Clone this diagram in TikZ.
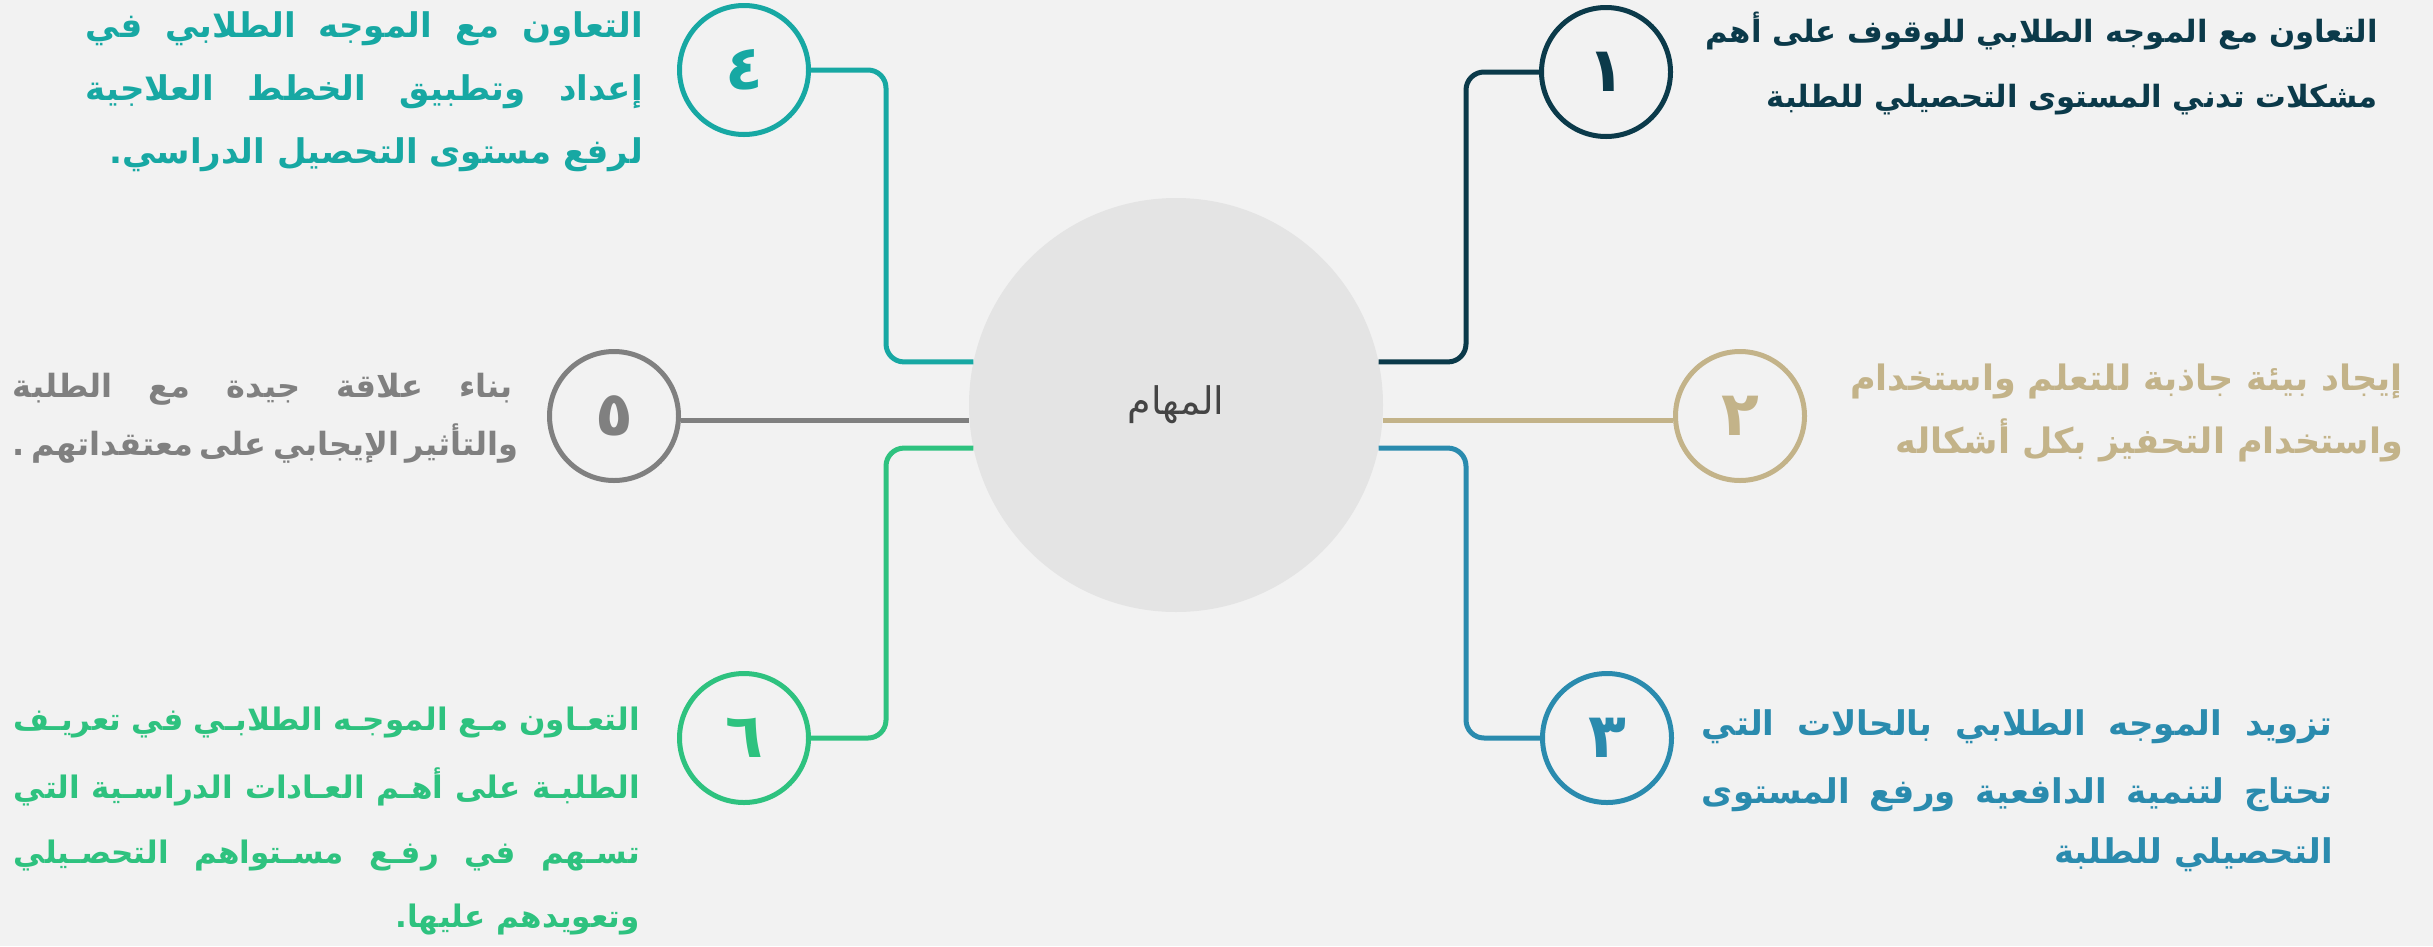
\documentclass[tikz,border=0pt]{standalone}
\usepackage{fontspec}
\TeXXeTstate=1
\newfontfamily\arabicfont[Script=Arabic]{DejaVu Sans}
\definecolor{bgc}{HTML}{F2F2F2}
\definecolor{cenc}{HTML}{E4E4E4}
\definecolor{cenT}{HTML}{444444}
\definecolor{cA}{HTML}{0B3A4A}
\definecolor{cB}{HTML}{C3B389}
\definecolor{cC}{HTML}{2A8BAE}
\definecolor{cD}{HTML}{17A8A3}
\definecolor{cE}{HTML}{808080}
\definecolor{cF}{HTML}{2EC27F}
\newcommand\jl[2]{\hbox to #1{\spaceskip=.3em plus 1fil minus .1em #2}}
\tikzset{
  num/.style={circle, draw, line width=5pt, minimum size=129pt, inner sep=0pt,
    font=\arabicfont\bfseries\fontsize{62}{62}\selectfont},
  conn/.style={line width=5pt, rounded corners=18pt},
  txt/.style={anchor=base east, inner sep=0pt,
    font=\arabicfont\bfseries\fontsize{#1}{#1}\selectfont},
}
\begin{document}
\begin{tikzpicture}[x=1pt,y=-1pt]
\fill[bgc] (0,0) rectangle (2433,946);
\useasboundingbox (0,0) rectangle (2433,946);

\node[circle, fill=cenc, minimum size=414pt, inner sep=0pt, text=cenT,
  font=\arabicfont\fontsize{38}{44}\selectfont] (cen) at (1176,405) {\beginR المهام\endR};

\node[num, draw=cA, text=cA] (n1) at (1606,72) {١};
\node[num, draw=cB, text=cB] (n2) at (1740,416) {٢};
\node[num, draw=cC, text=cC] (n3) at (1607,738) {٣};
\node[num, draw=cD, text=cD] (n4) at (744,70) {٤};
\node[num, draw=cE, text=cE] (n5) at (614,416) {٥};
\node[num, draw=cF, text=cF] (n6) at (744,738) {٦};

\coordinate (k1) at (1466,200);
\coordinate (k3) at (1466,600);
\coordinate (k4) at (886,200);
\coordinate (k6) at (886,600);
\coordinate (y2) at (1500,420);
\coordinate (y5) at (800,420);

\draw[conn, draw=cA] (cen.12) -| (k1) |- (n1);
\draw[conn, draw=cB] (cen.east |- y2) -- (n2.west |- y2);
\draw[conn, draw=cC] (cen.-12) -| (k3) |- (n3);
\draw[conn, draw=cD] (cen.168) -| (k4) |- (n4);
\draw[conn, draw=cE] (cen.west |- y5) -- (n5.east |- y5);
\draw[conn, draw=cF] (cen.192) -| (k6) |- (n6);

% block 1
\node[txt=30.7, text=cA] (t1a) at (2378,42) {\beginR التعاون مع الموجه الطلابي للوقوف على أهم\endR};
\node[txt=30.7, text=cA] (t1b) at (2378,107) {\beginR مشكلات تدني المستوى التحصيلي للطلبة\endR};
% block 2
\node[txt=35, text=cB] (t2a) at (2403,390) {\beginR إيجاد بيئة جاذبة للتعلم واستخدام\endR};
\node[txt=35, text=cB] (t2b) at (2403,453) {\beginR واستخدام التحفيز بكل أشكاله\endR};
% block 3
\node[txt=34, text=cC] (t3a) at (2333,735) {\jl{631pt}{\beginR تزويد الموجه الطلابي بالحالات التي\endR}};
\node[txt=34, text=cC] (t3b) at (2333,803) {\jl{631pt}{\beginR تحتاج لتنمية الدافعية ورفع المستوى\endR}};
\node[txt=34, text=cC] (t3c) at (2333,863) {\beginR التحصيلي للطلبة\endR};
% block 4
\node[txt=34, text=cD] (t4a) at (643,37) {\jl{557pt}{\beginR التعاون مع الموجه الطلابي في\endR}};
\node[txt=34, text=cD] (t4b) at (643,100) {\jl{557pt}{\beginR إعداد وتطبيق الخطط العلاجية\endR}};
\node[txt=34, text=cD] (t4c) at (643,163) {\beginR لرفع مستوى التحصيل الدراسي.\endR};
% block 5
\node[txt=32, text=cE] (t5a) at (513,397) {\jl{500pt}{\beginR بناء علاقة جيدة مع الطلبة\endR}};
\node[txt=32, text=cE] (t5b) at (513,455) {\jl{500pt}{\beginR والتأثير الإيجابي على معتقداتهم .\endR}};
% block 6
\node[txt=31, text=cF] (t6a) at (640,730) {\jl{626pt}{\beginR التعـاون مـع الموجـه الطلابـي في تعريـف\endR}};
\node[txt=31, text=cF] (t6b) at (640,798) {\jl{626pt}{\beginR الطلبـة على أهـم العـادات الدراسـية التي\endR}};
\node[txt=31, text=cF] (t6c) at (640,863) {\jl{626pt}{\beginR تسـهم في رفـع مسـتواهم التحصـيلي\endR}};
\node[txt=31, text=cF] (t6d) at (640,927) {\beginR وتعويدهم عليها.\endR};
\end{tikzpicture}
\end{document}
